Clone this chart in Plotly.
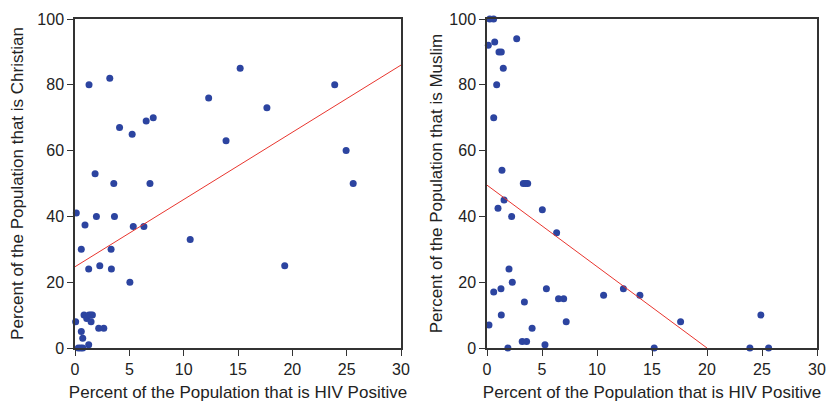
import plotly.graph_objects as go

# Left panel: HIV % vs Christian %
chr_hiv = [1.29, 3.2, 12.3, 4.1, 6.55, 7.2, 5.26, 1.85, 3.57, 6.9, 0.12, 1.97, 3.63, 0.92, 5.36, 6.34,
           10.6, 0.58, 3.32, 1.26, 2.28, 3.35, 5.05, 0.83, 1.08, 1.29, 1.45, 1.6, 1.48, 0.06, 2.18, 2.65,
           0.58, 0.71, 1.26, 0.3, 0.52, 0.71, 15.2, 23.9, 17.66, 13.9, 24.95, 25.6, 19.3]
chr_pct = [80, 82, 76, 67, 69, 70, 65, 53, 50, 50, 41, 40, 40, 37.4, 36.9, 36.9,
           33, 30, 30, 24, 25, 24, 20, 10, 9, 10, 10, 10, 8, 8, 6, 6,
           5, 3, 1, 0, 0, 0, 85, 80, 73, 63, 60, 50, 25]
chr_fit_x = [0, 30]
chr_fit_y = [24.7, 86]

# Right panel: HIV % vs Muslim %
mus_hiv = [0.25, 0.6, 0.12, 0.7, 2.7, 1.09, 1.3, 1.48, 0.88, 0.61, 1.36, 3.3, 3.5, 3.7, 1.55, 1.0,
           5.03, 2.24, 6.33, 2.0, 2.3, 0.61, 1.27, 5.4, 6.5, 6.97, 3.4, 1.3, 7.2, 0.18, 4.1,
           3.2, 3.6, 5.27, 1.9, 10.6, 12.4, 13.9, 17.6, 15.2, 23.9, 25.6, 24.9]
mus_pct = [100, 100, 92, 93, 94, 90, 90, 85, 80, 70, 54, 50, 50, 50, 45, 42.5,
           42, 40, 35, 24, 20, 17, 18, 18, 15, 15, 14, 10, 8, 7, 6,
           2, 2, 1, 0, 16, 18, 16, 8, 0, 0, 0, 10]
mus_fit_x = [0, 20]
mus_fit_y = [49.5, 0]

x_title = "Percent of the Population that is HIV Positive"
y_titles = ["Percent of the Population that is Christian", "Percent of the Population that is Muslim"]

DOT = "#2c44a0"
RED = "#e8352e"
FONT = "Liberation Sans, Arial, sans-serif"

fig = go.Figure()
fig.add_trace(go.Scatter(x=chr_hiv, y=chr_pct, mode="markers", marker=dict(size=7, color=DOT),
                         cliponaxis=False, xaxis="x", yaxis="y", showlegend=False))
fig.add_trace(go.Scatter(x=chr_fit_x, y=chr_fit_y, mode="lines", line=dict(color=RED, width=1),
                         xaxis="x", yaxis="y", showlegend=False))
fig.add_trace(go.Scatter(x=mus_hiv, y=mus_pct, mode="markers", marker=dict(size=7, color=DOT),
                         cliponaxis=False, xaxis="x2", yaxis="y2", showlegend=False))
fig.add_trace(go.Scatter(x=mus_fit_x, y=mus_fit_y, mode="lines", line=dict(color=RED, width=1),
                         xaxis="x2", yaxis="y2", showlegend=False))

W, H = 826, 402
axcommon = dict(showgrid=False, zeroline=False, showline=True, linecolor="#333", linewidth=1.5,
                mirror=True, ticks="outside", ticklen=6, tickcolor="#333", tickwidth=1,
                tickfont=dict(size=16, color="#222", family=FONT), automargin=False)

def xaxis(dom, anchor):
    return dict(domain=dom, anchor=anchor, range=[0, 30], dtick=5, tick0=0,
                title=dict(text=x_title, font=dict(size=17, color="#222", family=FONT), standoff=10),
                **axcommon)

def yaxis(title, anchor, standoff):
    return dict(domain=[0, 1], anchor=anchor, range=[0, 100], dtick=20, tick0=0,
                title=dict(text=title, font=dict(size=17, color="#222", family=FONT), standoff=standoff),
                **axcommon)

fig.update_layout(
    width=W, height=H,
    margin=dict(l=0, r=0, t=19, b=54),
    paper_bgcolor="white", plot_bgcolor="white",
    font=dict(family=FONT),
    xaxis=xaxis([75 / W, 401 / W], "y"),
    yaxis=yaxis(y_titles[0], "x", 9),
    xaxis2=xaxis([487 / W, 817 / W], "y2"),
    yaxis2=yaxis(y_titles[1], "x2", 2),
)

fig.write_html("out.html")
